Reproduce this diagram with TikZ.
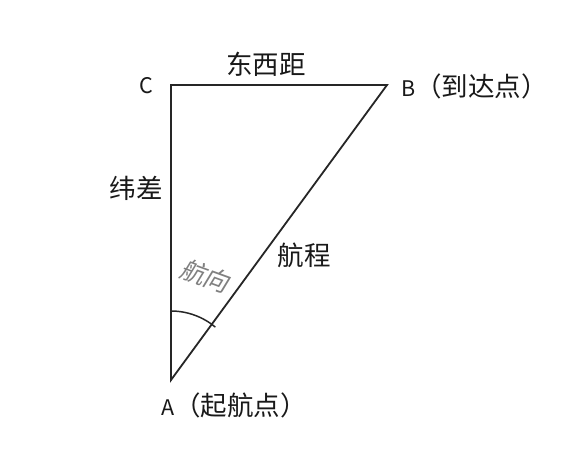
\documentclass[tikz,border=0pt]{standalone}
\usepackage{fontspec}
\setmainfont{Noto Sans CJK SC}
\newfontfamily\cjkslant[FakeSlant=0.2]{Noto Sans CJK SC}
\begin{document}
\begin{tikzpicture}[x=1pt,y=-1pt,
  edge/.style={draw=black!85, line width=1.8pt},
  lbl/.style={inner sep=0pt, text=black!90, font=\fontsize{26.5}{26.5}\selectfont},
  latn/.style={inner sep=0pt, text=black!90, font=\fontsize{21.5}{21.5}\selectfont}]
\useasboundingbox[fill=white] (0,0) rectangle (588,458);
\coordinate (C) at (171,85);
\coordinate (B) at (387,85);
\coordinate (A) at (171,380);
\draw[edge, line join=miter] (B) -- (C) -- (A) -- cycle;
\draw[draw=black!85, line width=1.5pt] (A) ++(0,-69) arc[start angle=-90, end angle=-50, radius=69];
\node[latn] (lc) at (146,86) {C};
\node[lbl] (ew) at (266,64) {东西距};
\node[latn, anchor=west] (lb) at (401,86) {B\fontsize{26.5}{26.5}\selectfont（到达点）};
\node[lbl] (wc) at (136,188) {纬差};
\node[lbl] (dist) at (304,255) {航程};
\node[lbl, text=black!50, rotate=-20, font=\fontsize{25}{25}\selectfont\cjkslant] (hdg) at (205,276) {航向};
\node[latn, anchor=west] (la) at (161,405) {A\fontsize{26.5}{26.5}\selectfont（起航点）};
\end{tikzpicture}
\end{document}
